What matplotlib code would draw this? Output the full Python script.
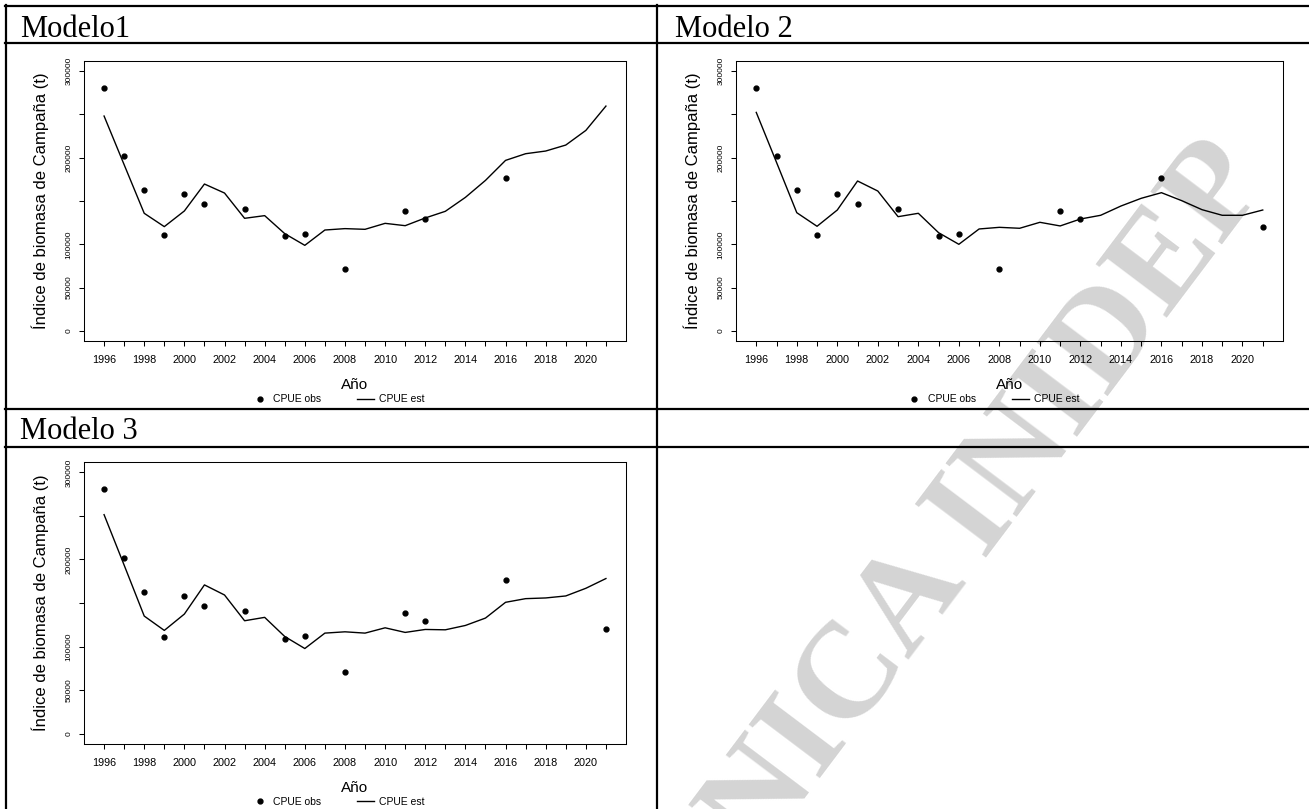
import matplotlib
matplotlib.use("Agg")
import matplotlib.pyplot as plt
from matplotlib.lines import Line2D

# ---- data -------------------------------------------------------------
years = list(range(1996, 2022))

obs_years = [1996, 1997, 1998, 1999, 2000, 2001, 2003, 2005, 2006, 2008,
             2011, 2012, 2016, 2021]
obs_values = [280800, 201500, 162300, 110400, 158500, 146900, 140800,
              109200, 111900, 71200, 138800, 129600, 176500, 120500]

est_modelo1 = [248100, 191900, 135800, 120400, 138500, 169600, 159200,
               130000, 133100, 112300, 98800, 116500, 118100, 117300,
               124200, 121500, 130400, 138100, 154200, 173800, 196900,
               204600, 207700, 214600, 231500, 259600]
est_modelo2 = [252300, 194600, 136500, 120800, 139600, 173100, 161500,
               131900, 135800, 113400, 100000, 117700, 119600, 118500,
               125400, 121200, 129200, 133500, 144200, 153100, 159600,
               150400, 140000, 133500, 133500, 139600]
est_modelo3 = [251500, 193500, 135000, 118500, 137300, 170800, 159200,
               129600, 133500, 111500, 97700, 115400, 116900, 115400,
               121500, 116200, 119600, 119200, 124200, 132700, 150800,
               155000, 155800, 158100, 166900, 178100]

panel_titles = ["Modelo1", "Modelo 2", "Modelo 3"]
y_ticks = [0, 50000, 100000, 150000, 200000, 250000, 300000]
y_tick_labels = ["0", "50000", "100000", "", "200000", "", "300000"]
x_label = "Año"
y_label = "Índice de biomasa de Campaña (t)"
legend_labels = ["CPUE obs", "CPUE est"]
watermark = "TECNICA INIDEP"

# ---- figure -----------------------------------------------------------
W, H = 1309, 809
fig = plt.figure(figsize=(W / 100, H / 100), dpi=100)
fig.patch.set_facecolor("white")

SANS = ["Liberation Sans", "DejaVu Sans"]
SERIF = ["Liberation Serif", "DejaVu Serif"]


def fx(x):
    return x / W


def fy(y):
    return 1 - y / H


def rect(left, top, right, bottom):
    return [fx(left), fy(bottom), fx(right) - fx(left), fy(top) - fy(bottom)]


# watermark behind everything
fig.text(fx(905), fy(612), watermark, rotation=53, fontsize=98,
         fontweight="bold", family=SERIF, color="#d4d4d4",
         ha="center", va="center", zorder=-5)

# table rules
lw_table = 1.6
for y0 in (6, 43, 409, 447):
    fig.add_artist(Line2D([fx(5), 1.0], [fy(y0), fy(y0)], color="black",
                          lw=lw_table, transform=fig.transFigure))
for x0 in (6, 657):
    fig.add_artist(Line2D([fx(x0), fx(x0)], [fy(5), 0.0], color="black",
                          lw=lw_table, transform=fig.transFigure))

# panel headings
fig.text(fx(20), fy(37), panel_titles[0], family=SERIF, fontsize=22,
         va="baseline", ha="left")
fig.text(fx(675), fy(37), panel_titles[1], family=SERIF, fontsize=22,
         va="baseline", ha="left")
fig.text(fx(20), fy(439), panel_titles[2], family=SERIF, fontsize=22,
         va="baseline", ha="left")


def panel(box, est, show_last_obs):
    left, top, right, bottom = box
    ax = fig.add_axes(rect(left, top, right, bottom))
    ax.set_facecolor("none")
    wpx = right - left
    hpx = bottom - top

    if show_last_obs:
        ox, oy = obs_years, obs_values
    else:
        ox, oy = obs_years[:-1], obs_values[:-1]
    ax.plot(ox, oy, linestyle="none", marker="o", markersize=3.5,
            color="black", label=legend_labels[0])
    ax.plot(years, est, color="black", lw=1.0, label=legend_labels[1])

    ax.set_xlim(1995, 2022)
    ax.set_ylim(-12000, 312000)

    ax.set_xticks(years)
    ax.set_xticklabels([str(y) if y % 2 == 0 else "" for y in years],
                       family=SANS, fontsize=7.8)
    ax.set_yticks(y_ticks)
    ax.set_yticklabels(y_tick_labels, family=SANS, fontsize=6,
                       rotation=90, va="center")

    ax.tick_params(axis="x", direction="out", length=3.6, width=0.75,
                   pad=6.5)
    ax.tick_params(axis="y", direction="out", length=3.6, width=0.75,
                   pad=4.5)
    for s in ax.spines.values():
        s.set_linewidth(0.75)
        s.set_color("black")

    ax.set_xlabel(x_label, family=SANS, fontsize=11)
    ax.xaxis.set_label_coords(0.5, -44 / hpx)
    ax.xaxis.label.set_va("center")

    ax.set_ylabel(y_label, family=SANS, fontsize=12)
    ax.yaxis.set_label_coords(-44 / wpx, 0.5)
    ax.yaxis.label.set_va("center")

    ax.legend(loc="center", bbox_to_anchor=(0.5 - 17 / wpx, -58 / hpx),
              ncol=2, frameon=False, prop={"family": SANS, "size": 7.5},
              handlelength=1.63, handletextpad=0.48, columnspacing=3.4,
              borderpad=0, borderaxespad=0, numpoints=1)
    return ax


panel((84, 60.7, 626, 341.3), est_modelo1, show_last_obs=False)
panel((736, 60.7, 1283, 341.3), est_modelo2, show_last_obs=True)
panel((84, 462, 626, 744), est_modelo3, show_last_obs=True)

fig.savefig("out.png", dpi=100, facecolor="white")
